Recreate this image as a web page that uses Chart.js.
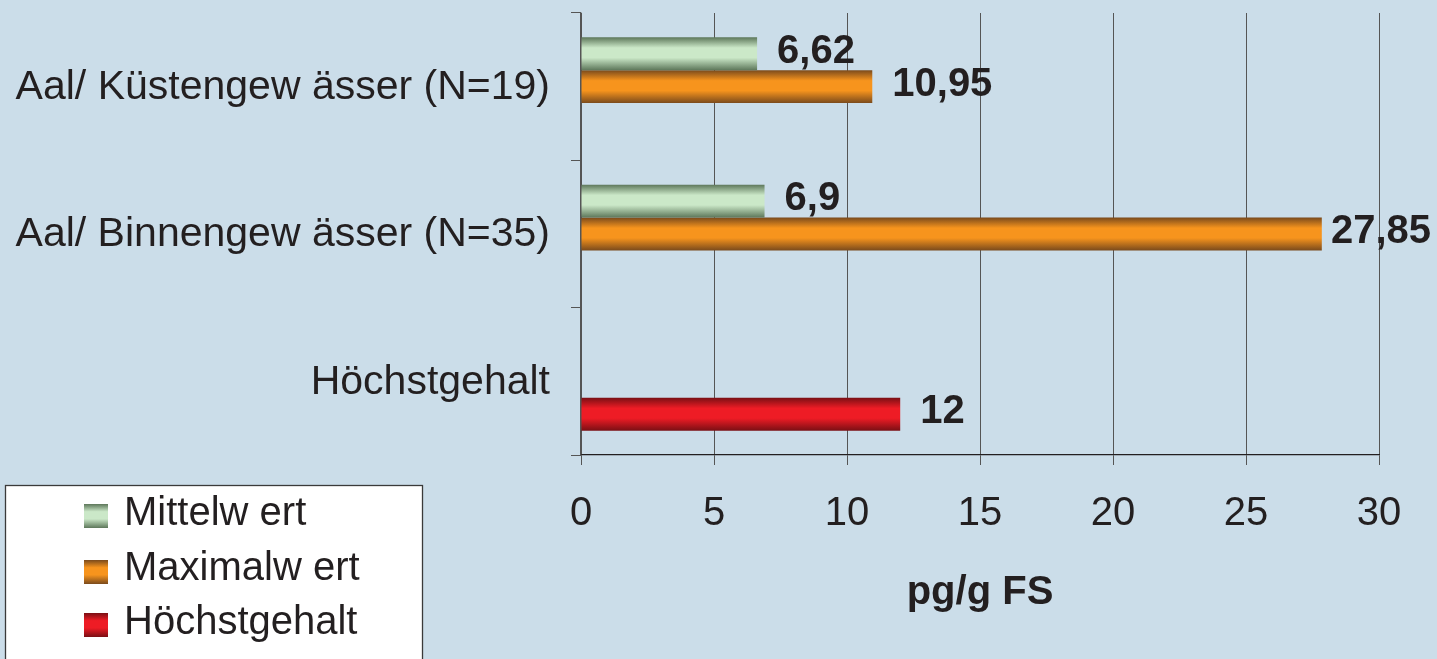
<!DOCTYPE html>
<html>
<head>
<meta charset="utf-8">
<script src="https://cdn.jsdelivr.net/npm/chart.js@4/dist/chart.umd.min.js"></script>
<style>
  html, body { margin: 0; padding: 0; background: #cbdde9; overflow: hidden; }
  #wrap { width: 1437px; height: 659px; position: relative; }
</style>
</head>
<body>
<div id="wrap"><canvas id="c" width="1437" height="659"></canvas></div>
<script>
const categories = ['Aal/ Küstengew ässer (N=19)', 'Aal/ Binnengew ässer (N=35)', 'Höchstgehalt'];
const mittelwert = [6.62, 6.9, null];
const maximalwert = [10.95, 27.85, null];
const hoechstgehalt = [null, null, 12];
const seriesNames = ['Mittelw ert', 'Maximalw ert', 'Höchstgehalt'];
const xTicks = [0, 5, 10, 15, 20, 25, 30];
const axisTitle = 'pg/g FS';

const FONT = "'Liberation Sans', Arial, sans-serif";
const TEXT = '#231f20';
const GRID = '#555555';

const palettes = [
  { edge: '#5d775a', mid: '#cbe8c8' },
  { edge: '#7a4a1c', mid: '#f7941d' },
  { edge: '#7a0f14', mid: '#ee1c25' }
];

function grad(ctx, top, h, p) {
  const g = ctx.createLinearGradient(0, top, 0, top + h);
  g.addColorStop(0, p.edge);
  g.addColorStop(0.32, p.mid);
  g.addColorStop(0.62, p.mid);
  g.addColorStop(1, p.edge);
  return g;
}

const gradientPlugin = {
  id: 'gradientBars',
  beforeDatasetDraw(chart, args) {
    const ctx = chart.ctx;
    const p = palettes[args.index];
    args.meta.data.forEach(el => {
      const { y, height } = el.getProps(['y', 'height'], true);
      const top = y - height / 2;
      el.options = Object.assign({}, el.options, { backgroundColor: grad(ctx, top, height, p) });
    });
  }
};

const valueLabelPlugin = {
  id: 'valueLabels',
  afterDatasetsDraw(chart) {
    const ctx = chart.ctx;
    ctx.save();
    ctx.font = 'bold 40px ' + FONT;
    ctx.fillStyle = TEXT;
    ctx.textAlign = 'left';
    ctx.textBaseline = 'middle';
    chart.data.datasets.forEach((ds, di) => {
      const meta = chart.getDatasetMeta(di);
      meta.data.forEach((el, i) => {
        const v = ds.data[i];
        if (v === null || v === undefined) return;
        const txt = String(v).replace('.', ',');
        const w = ctx.measureText(txt).width;
        let x = el.x + 20;
        if (x + w > chart.width - 6) x = chart.width - 6 - w;
        ctx.fillText(txt, x, el.y - 2);
      });
    });
    ctx.restore();
  }
};

const legendPlugin = {
  id: 'boxLegend',
  afterDraw(chart) {
    const ctx = chart.ctx;
    ctx.save();
    ctx.fillStyle = '#ffffff';
    ctx.fillRect(5, 485, 418, 200);
    ctx.strokeStyle = '#3a3a3a';
    ctx.lineWidth = 1.3;
    ctx.strokeRect(5.5, 485.5, 417, 200);
    const textY = [513, 568, 622];
    const boxY = [516, 572, 625];
    ctx.font = '40px ' + FONT;
    ctx.textAlign = 'left';
    ctx.textBaseline = 'middle';
    chart.data.datasets.forEach((ds, i) => {
      const top = boxY[i] - 12;
      ctx.fillStyle = grad(ctx, top, 24, palettes[i]);
      ctx.fillRect(84, top, 24, 24);
      ctx.fillStyle = TEXT;
      ctx.fillText(ds.label, 124, textY[i] + 1);
    });
    ctx.restore();
  }
};

const datasets = [mittelwert, maximalwert, hoechstgehalt].map((d, i) => ({
  label: seriesNames[i],
  data: d,
  backgroundColor: palettes[i].mid,
  borderWidth: 0,
  barPercentage: 1.0,
  categoryPercentage: 0.67
}));

new Chart(document.getElementById('c'), {
  type: 'bar',
  data: { labels: categories, datasets },
  plugins: [gradientPlugin, valueLabelPlugin, legendPlugin],
  options: {
    indexAxis: 'y',
    responsive: false,
    animation: false,
    layout: { autoPadding: false, padding: { top: 13, right: 58, bottom: 0, left: 0 } },
    plugins: { legend: { display: false }, tooltip: { enabled: false } },
    scales: {
      x: {
        min: 0, max: 30,
        afterBuildTicks(s) { s.ticks = xTicks.map(v => ({ value: v })); },
        afterFit(s) { s.height = 204; s.paddingLeft = 0; s.paddingRight = 0; },
        grid: { color: GRID, lineWidth: 1, tickLength: 10, drawTicks: true },
        border: { color: '#231f20', width: 1.3 },
        ticks: { color: TEXT, font: { family: FONT, size: 40 }, padding: 25, maxRotation: 0 },
        title: { display: true, text: axisTitle, color: TEXT, font: { family: FONT, size: 40, weight: 'bold' }, padding: { top: 0, bottom: 42 } }
      },
      y: {
        afterFit(s) { s.width = 581; s.paddingTop = 0; s.paddingBottom = 0; },
        grid: { drawOnChartArea: false, color: GRID, tickLength: 10 },
        border: { color: GRID, width: 1.3 },
        ticks: { color: TEXT, font: { family: FONT, size: 41 }, padding: 21, labelOffset: 1 }
      }
    }
  }
});
</script>
</body>
</html>
